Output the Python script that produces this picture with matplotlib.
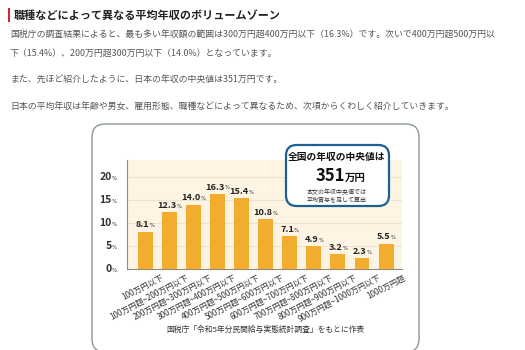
import matplotlib.pyplot as plt
from matplotlib.patches import FancyBboxPatch, Rectangle
import matplotlib.transforms as mtransforms

plt.rcParams['font.family'] = ['Noto Sans CJK JP', 'DejaVu Sans']

categories = ['100万円以下', '100万円超~200万円以下', '200万円超~300万円以下',
              '300万円超~400万円以下', '400万円超~500万円以下', '500万円超~600万円以下',
              '600万円超~700万円以下', '700万円超~800万円以下', '800万円超~900万円以下',
              '900万円超~1000万円以下', '1000万円超']
shares = [8.1, 12.3, 14.0, 16.3, 15.4, 10.8, 7.1, 4.9, 3.2, 2.3, 5.5]
yticks = [0, 5, 10, 15, 20]

heading = '職種などによって異なる平均年収のボリュームゾーン'
paragraphs = [
    '国税庁の調査結果によると、最も多い年収額の範囲は300万円超400万円以下（16.3%）です。次いで400万円超500万円以',
    '下（15.4%）、200万円超300万円以下（14.0%）となっています。',
    'また、先ほど紹介したように、日本の年収の中央値は351万円です。',
    '日本の平均年収は年齢や男女、雇用形態、職種などによって異なるため、次項からくわしく紹介していきます。',
]
para_y = [35, 53, 80, 107]
source = '国税庁「令和5年分民間給与実態統計調査」をもとに作表'

W, H = 525, 350
fig = plt.figure(figsize=(W / 100, H / 100), dpi=100)
fig.patch.set_facecolor('white')


def fx(x):
    return x / W


def fy(y):
    return 1 - y / H


text_col = '#555555'

# heading with red marker
fig.patches.append(Rectangle((fx(8), fy(22)), 2 / W, 14 / H, transform=fig.transFigure,
                             facecolor='#d9232d', edgecolor='none'))
fig.text(fx(14), fy(15), heading, fontsize=8, fontweight='bold', color='#222222', va='center')
for t, y in zip(paragraphs, para_y):
    fig.text(fx(10), fy(y), t, fontsize=6.4, color=text_col, va='center')

# outer rounded frame
fig.patches.append(FancyBboxPatch((fx(92), fy(352)), fx(419) - fx(92), (352 - 124) / H,
                                  boxstyle='round,pad=0,rounding_size=0.025',
                                  transform=fig.transFigure, facecolor='white',
                                  edgecolor='#8a969e', linewidth=1.0, mutation_aspect=W / H,
                                  zorder=0.2))

ax = fig.add_axes([fx(127), fy(269), fx(402) - fx(127), (269 - 160) / H])
ax.set_zorder(1)
ax.set_facecolor('#fdf4e3')
x = list(range(len(shares)))
ax.bar(x, shares, width=0.62, color='#f2ad2f', zorder=3)
ax.set_xlim(-0.75, len(shares) - 1 + 0.66)
ax.set_ylim(0, 23.7)
for v in yticks[1:]:
    ax.axhline(v, color='#ece2d0', linewidth=0.8, zorder=1)
for s in ['top', 'right']:
    ax.spines[s].set_visible(False)
ax.spines['left'].set_color('#8f8a80')
ax.spines['bottom'].set_color('#8f8a80')
ax.tick_params(length=0)
ax.set_yticks(yticks)
ax.set_yticklabels([])
ax.set_xticks(x)
ax.set_xticklabels([])

ytr = mtransforms.blended_transform_factory(ax.transAxes, ax.transData)
for v in yticks:
    t = ax.text(-0.055, v, str(v), transform=ytr, ha='right', va='center',
                fontsize=7.5, fontweight='bold', color='#333333')
    ax.annotate('%', xy=(1, 0.12), xycoords=t, family='DejaVu Sans',
                fontsize=4, color='#333333', va='bottom', ha='left')

for i, v in enumerate(shares):
    t = ax.text(i - 0.1, v + 0.5, f'{v:.1f}', ha='center', va='bottom',
                fontsize=6.6, fontweight='bold', color='#222222', zorder=4)
    ax.annotate('%', xy=(1, 0.14), xycoords=t, family='DejaVu Sans',
                fontsize=3.8, color='#222222', va='bottom', ha='left')

off = mtransforms.offset_copy(ax.transData, fig=fig, x=16, y=-4, units='dots')
for i, c in enumerate(categories):
    ax.text(i, 0, c, transform=off, rotation=28, rotation_mode='anchor',
            ha='right', va='top', fontsize=5.8, color='#333333')

# median callout
fig.patches.append(FancyBboxPatch((fx(286), fy(206)), fx(389) - fx(286), (206 - 145) / H,
                                  boxstyle='round,pad=0,rounding_size=0.02',
                                  transform=fig.transFigure, facecolor='white',
                                  edgecolor='#1d5f92', linewidth=1.6, mutation_aspect=W / H,
                                  zorder=5))
fig.text(fx(337), fy(157), '全国の年収の中央値は', fontsize=7, fontweight='bold',
         color='#111111', ha='center', va='center', zorder=6)
fig.text(fx(330), fy(176), '351', fontsize=12, fontweight='bold', color='#111111',
         ha='center', va='center', zorder=6)
fig.text(fx(345), fy(177.5), '万円', fontsize=7.5, fontweight='bold', color='#111111',
         ha='left', va='center', zorder=6)
fig.text(fx(337), fy(192), '本文の年収中央値では', fontsize=4.3, color='#333333',
         ha='center', va='center', zorder=6)
fig.text(fx(337), fy(199), '平均賞与を足して算出', fontsize=4.3, color='#333333',
         ha='center', va='center', zorder=6)

fig.text(fx(265), fy(330), source, fontsize=5.6, color='#333333', ha='center', va='center')

fig.savefig('out.png', dpi=100)
